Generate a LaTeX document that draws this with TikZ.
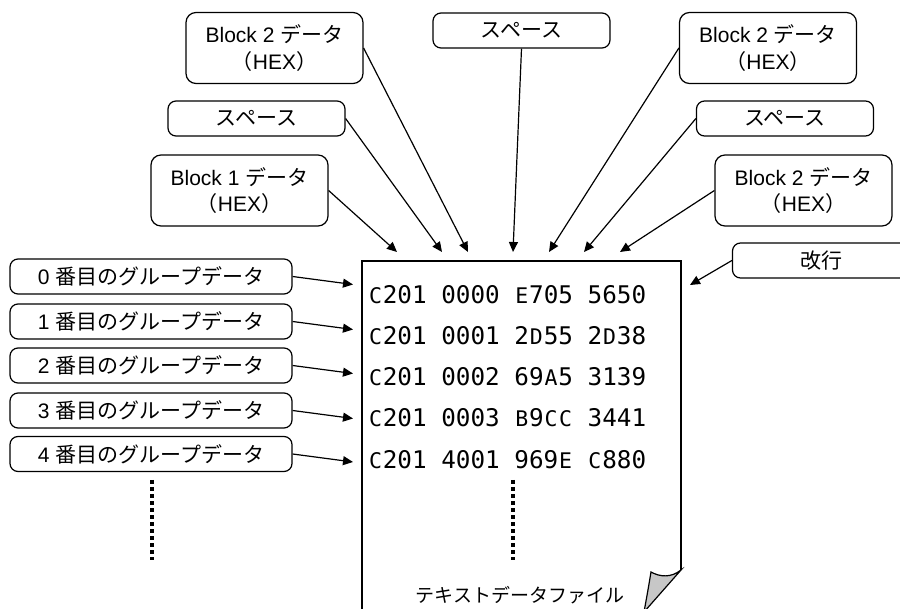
\documentclass[tikz,border=0pt]{standalone}
\usepackage{fontspec}
\setmainfont{Liberation Sans}
\newfontfamily\jp{Noto Sans CJK JP}
\newfontfamily\mono{DejaVu Sans Mono}
\usetikzlibrary{arrows.meta}
% hex letters a bit smaller than the digits, same cell width
\newcommand\hx[1]{\makebox[0.602em]{\fontsize{21.5}{22}\selectfont #1}}

\begin{document}
\begin{tikzpicture}[
        x                = 1pt,
        y                = -1pt,
        box/.style       = {draw, rounded corners=8pt, line width=1.2pt, minimum width=177pt,
                            minimum height=35pt, inner sep=0pt, align=center,
                            font=\fontsize{21}{26.7}\selectfont},
        tall/.style      = {box, minimum height=71pt, rounded corners=10pt},
        grp/.style       = {box, minimum width=282pt},
        hexrow/.style    = {anchor=base west, inner sep=0pt, font=\mono\fontsize{24.3}{25}\selectfont},
        ptr/.style       = {-{Triangle[length=10pt,width=9pt]}, line width=1.2pt},
        dotline/.style   = {line width=4pt, dash pattern=on 4pt off 3pt},
        %rounded corners
      ]
        \useasboundingbox (0,0) rectangle (900,609);

        % labels above the file
        \node[tall] (blkTwoL) at (274.5,48)  {Block 2 {\jp データ}\\{\jp （}HEX{\jp ）}};
        \node[box]  (spcT)    at (521.5,30.5) {\jp スペース};
        \node[tall] (blkTwoT) at (768,48)    {Block 2 {\jp データ}\\{\jp （}HEX{\jp ）}};
        \node[box]  (spcL)    at (256.5,118.5) {\jp スペース};
        \node[box]  (spcR)    at (785,118.5) {\jp スペース};
        \node[tall] (blkOne)  at (239.5,190.5) {Block 1 {\jp データ}\\{\jp （}HEX{\jp ）}};
        \node[tall] (blkTwoR) at (803.5,190.5) {Block 2 {\jp データ}\\{\jp （}HEX{\jp ）}};
        \node[box]  (crlf)    at (821,260.5) {\jp 改行};

        % labels left of the file
        \node[grp] (grp0) at (151,276.5) {0 {\jp 番目のグループデータ}};
        \node[grp] (grp1) at (151,321.5) {1 {\jp 番目のグループデータ}};
        \node[grp] (grp2) at (151,365.5) {2 {\jp 番目のグループデータ}};
        \node[grp] (grp3) at (151,410.5) {3 {\jp 番目のグループデータ}};
        \node[grp] (grp4) at (151,454)   {4 {\jp 番目のグループデータ}};

        % the text file
        \draw[line width=1.5pt] (362,615) -- (362,261) -- (681,261) -- (681,570);
        \filldraw[fill=black!22, line width=1.2pt]
            (681,570) .. controls (671,578) and (660,577) .. (651,572)
            .. controls (648,590) .. (644,612) -- cycle;
        \node[hexrow] (ln0) at (368,303.3) {\hx{C}201 0000 \hx{E}705 5650};
        \node[hexrow] (ln1) at (368,344.6) {\hx{C}201 0001 2\hx{D}55 2\hx{D}38};
        \node[hexrow] (ln2) at (368,385.8) {\hx{C}201 0002 69\hx{A}5 3139};
        \node[hexrow] (ln3) at (368,427)   {\hx{C}201 0003 \hx{B}9\hx{C}\hx{C} 3441};
        \node[hexrow] (ln4) at (368,468.3) {\hx{C}201 4001 969\hx{E} \hx{C}880};
        \node[font=\jp\fontsize{19}{19}\selectfont] (cap) at (520,595) {テキストデータファイル};

        \draw[dotline] (513,480) -- (513,560);
        \draw[dotline] (152,480) -- (152,560);

        % arrow ends
        \coordinate (a1) at (397,252);
        \coordinate (a2) at (442,252);
        \coordinate (a3) at (468,252);
        \coordinate (a4) at (513,252);
        \coordinate (a5) at (549,252);
        \coordinate (a6) at (584,252);
        \coordinate (a7) at (620,252);
        \coordinate (a8) at (690,285);
        \coordinate (t0) at (353,284.5);
        \coordinate (t1) at (353,329.5);
        \coordinate (t2) at (353,373.5);
        \coordinate (t3) at (353,418.5);
        \coordinate (t4) at (353,462);

        \draw[ptr] (blkOne.east)  -- (a1);
        \draw[ptr] (spcL.east)    -- (a2);
        \draw[ptr] (blkTwoL.east) -- (a3);
        \draw[ptr] (spcT.south)   -- (a4);
        \draw[ptr] (blkTwoT.west) -- (a5);
        \draw[ptr] (spcR.west)    -- (a6);
        \draw[ptr] (blkTwoR.west) -- (a7);
        \draw[ptr] (crlf.west)    -- (a8);

        \draw[ptr] (grp0.east) -- (t0);
        \draw[ptr] (grp1.east) -- (t1);
        \draw[ptr] (grp2.east) -- (t2);
        \draw[ptr] (grp3.east) -- (t3);
        \draw[ptr] (grp4.east) -- (t4);
    \end{tikzpicture}
\end{document}
